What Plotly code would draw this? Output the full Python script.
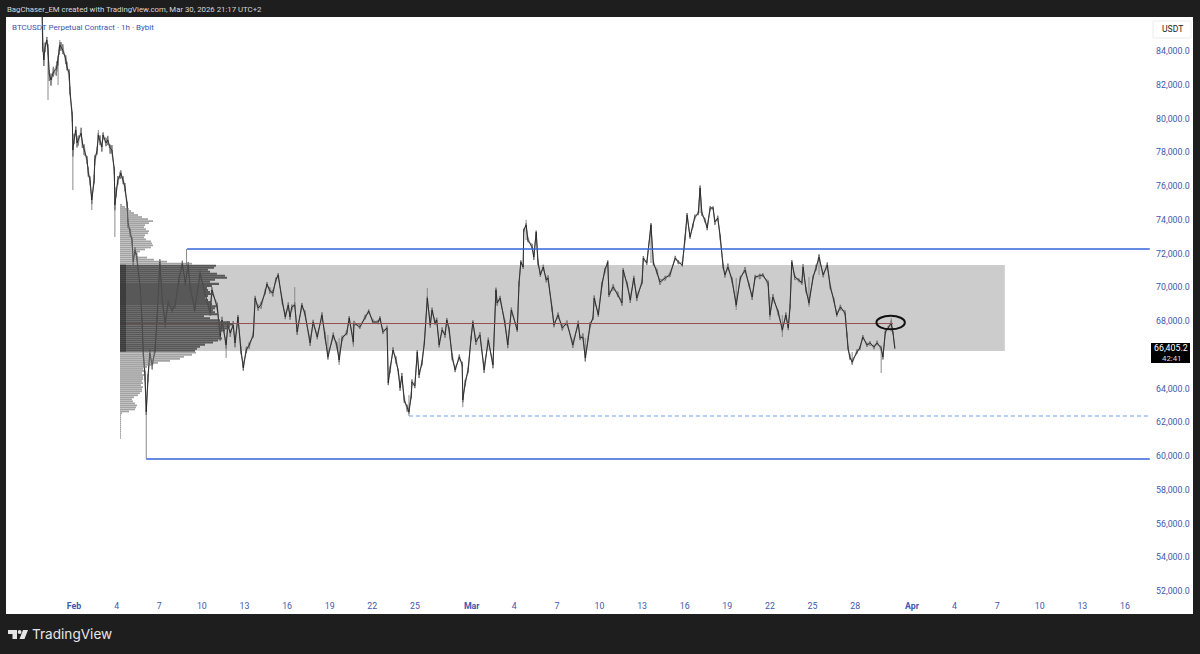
import plotly.graph_objects as go

# BTCUSDT price path: hours since 1 Feb 00:00 and traded price at each swing
hours = [-54,-53,-51,-49,-46,-44,-42,-39,-35,-30,-29,-27,-25,-24,-22,-19,-14,-12,-8,-7,-3,-2,0,3,5,7,12,14,17,22,24,27,30,34,35,39,41,44,47,49,54,57,61,64,68,69,71,74,78,79,83,86,90,91,95,98,100,103,106,112,115,117,120,122,125,128,132,137,140,145,149,154,159,166,171,177,183,188,193,196,204,213,221,230,233,242,247,250,257,260,264,269,272,277,282,286,291,296,303,306,311,316,323,326,331,336,341,345,352,357,362,365,368,373,377,385,390,399,404,411,419,424,429,438,444,448,453,461,465,472,473,483,492,498,505,514,517,522,529,531,534,539,544,548,551,554,558,563,566,570,571,576,580,583,588,592,597,602,605,610,613,617,622,627,630,634,639,644,651,656,657,661,666,671,674,679,686,693,700,708,713,715,720,728,733,739,749,752,755,759,760,764,767,774,777,781,784,788,793,798,801,808,811,818,825,833,843,852,855,860,864,869,872,877,879,886,892,897,902,904,911,919,926,928,935,940,946,951,960,962,968,975,979,985,990,999,1007,1016,1021,1028,1033,1036,1041,1046,1049,1055,1058,1061,1066,1070,1075,1080,1083,1088,1092,1097,1100,1105,1112,1119,1126,1134,1141,1146,1151,1159,1164,1173,1176,1181,1190,1197,1203,1207,1210,1213,1218,1225,1230,1232,1237,1242,1249,1254,1259,1266,1273,1278,1284,1289,1295,1303,1306,1308,1311,1315,1323,1328,1333,1340,1345,1352,1357,1364,1367,1371,1376,1381,1384,1387]
prices = [86430,84240,83470,84240,84650,84060,82640,82280,82760,82930,83050,83470,84060,84360,84240,84060,83530,83050,82640,81690,80090,78130,78730,79320,78550,78730,79140,78550,78190,77540,76770,76360,75170,76360,77540,78130,79020,78730,78310,79020,78550,78730,78250,78130,76950,74870,75590,76360,76650,76770,76300,75940,74760,73870,73210,72800,71500,72210,71790,69840,67880,66160,64680,62610,64680,66100,65390,66280,68060,71500,69240,67880,69070,68650,68950,70430,71440,70250,71320,70020,68650,70840,69660,68470,69840,68830,67050,68060,66580,67760,67290,67760,66700,68240,66280,65220,66280,66580,67170,69360,68770,68950,69720,70190,69780,69660,70430,70730,69130,68240,68950,68240,68830,68950,67350,68950,68470,66700,67940,67050,68360,67170,65870,67170,66580,65690,66990,67290,68180,66760,67880,67640,68240,68590,67940,67940,68180,67350,67590,64330,65100,66280,65690,64980,64030,64740,63320,62840,62610,63610,64390,64150,66160,64800,65510,66700,69360,67760,68650,67880,68060,66580,67470,67170,68060,67470,65870,65100,65870,65390,63320,64330,65100,66990,67940,66760,67170,65100,66870,65390,69840,69070,69360,67880,66580,68650,67470,70250,71500,71200,73390,73690,72800,72390,71790,73270,71500,70730,71200,70430,70550,68650,67760,68360,67590,67880,66580,67880,66990,67050,65810,66990,67760,68180,69360,68360,70130,71020,71500,69540,70020,69540,69070,71020,70130,69240,70550,69360,70310,71730,71440,73690,71440,70900,70310,70550,70730,71730,71500,71320,72980,74280,72980,73690,74160,74400,75880,74400,73990,73510,74700,74700,73870,74100,72980,71200,70730,71200,70430,68950,70550,71020,70130,69420,70610,70670,70730,70250,68360,69420,68530,67470,68360,67590,68830,71500,70610,70430,70250,71200,69840,69070,70610,71140,71790,70730,71320,70020,69240,68360,68830,68470,67170,66400,65870,65570,66160,66400,67050,66580,66700,66460,66700,66400,65870,67350,67590,67880,67290,66405]

# Bar extremes around each swing: distance up to the high and down to the low
wick_up = [0,300,420,260,180,350,240,380,300,210,340,260,190,150,280,330,220,310,260,190,320,240,360,200,290,250,310,180,270,230,340,210,160,300,280,190,120,260,220,150,310,240,200,290,170,260,310,230,190,150,280,240,310,200,260,180,230,170,260,300,220,190,350,240,180,260,200,300,240,160,280,220,190,300,240,180,130,260,170,220,300,150,240,280,170,260,210,190,160,230,180,240,160,120,210,280,190,150,230,130,200,170,150,120,210,180,140,110,190,230,150,210,140,160,240,120,170,200,130,190,150,180,230,140,190,210,130,170,110,190,130,160,120,90,150,120,100,170,130,280,200,160,210,170,240,180,210,190,240,170,140,200,120,220,170,150,100,190,140,180,130,210,150,170,120,160,210,170,140,190,240,180,150,130,100,190,160,210,140,180,110,170,130,190,220,140,170,110,90,120,80,100,160,180,120,80,160,190,130,170,150,200,160,140,180,150,190,140,170,210,120,130,170,90,150,120,170,110,90,180,160,190,200,110,170,210,130,190,150,110,130,90,150,200,170,120,150,130,110,160,140,120,70,90,130,100,110,80,120,170,110,90,100,140,130,160,120,200,150,170,110,180,90,110,120,130,100,150,100,170,120,200,140,160,180,110,110,90,130,160,170,190,90,190,140,100,150,80,120,180,130,150,160,120,170,180,150,110,120,130,100,110,130,120,110,100,120,150,90,110,90,80,100,70]
wick_dn = [0,280,360,310,240,300,410,330,280,390,250,320,280,360,210,240,310,190,350,280,300,380,240,310,260,330,190,290,360,240,210,300,240,210,320,260,180,310,270,240,190,300,330,210,290,310,240,280,220,310,190,260,240,350,220,280,170,240,210,190,230,290,210,180,300,240,260,180,220,300,190,260,230,170,210,260,310,180,240,170,150,280,210,160,260,190,230,170,210,170,230,150,260,190,220,160,180,210,140,190,160,220,130,170,150,200,120,180,150,130,220,160,190,120,170,210,140,180,170,130,190,240,120,170,210,130,180,120,170,150,130,110,140,120,100,130,170,120,160,130,190,140,210,180,160,200,170,210,100,180,210,130,170,180,140,110,210,150,130,110,170,140,120,160,110,150,190,130,170,110,140,190,170,140,120,180,130,170,150,190,120,160,170,100,190,140,120,200,150,110,130,90,120,110,170,130,190,110,170,140,150,110,130,180,150,120,170,140,120,150,170,100,150,120,170,110,140,190,130,120,180,110,160,210,130,170,140,180,120,190,110,130,150,120,170,140,120,100,130,90,170,110,100,150,130,120,110,170,140,130,150,110,170,130,190,110,150,130,170,120,130,110,120,170,140,190,110,170,120,150,190,110,190,130,120,140,170,130,100,190,150,110,90,130,200,140,170,110,130,100,170,140,110,120,150,130,110,130,100,120,150,130,110,120,150,140,100,120,90,70]

# Long candle wicks: hour, low, high
wick_hours = [-44,-27,-24,-2,30,41,69,122,190,257,373,429,448,472,566,597,657,713,764,864,975,1058,1119,1176,1197,1242,1259,1315,1364,1381]
wick_lows = [81100,81985,84360,75760,74580,78730,72980,59820,71320,65810,68950,65690,65390,66460,62370,69360,62900,69070,72800,65570,71440,74400,68650,68060,67050,68830,70730,65390,64920,67350]
wick_highs = [84060,83470,84650,78130,75170,79320,74870,62610,72270,66580,70010,67170,66990,67880,63610,69960,63320,70010,73990,66990,73810,76060,70550,69420,68360,70610,71970,66160,66400,68180]

# Volume profile rows, read from the top price downward
profile_top = 74880
profile_step = 120
profile_volume = [2,5,9,11,14,18,22,28,33,29,25,24,26,29,28,25,24,26,31,32,33,31,25,20,15,17,27,34,47,72,96,94,88,90,97,105,107,95,90,99,92,87,88,90,93,88,85,88,91,92,98,95,93,95,98,84,90,100,110,113,110,108,105,101,100,101,102,98,93,85,80,77,75,76,72,64,60,50,38,33,27,23,24,22,24,23,23,22,23,21,23,22,22,20,18,14,12,13,15,17,16,15,9,2,1,1,1,1,1,1,1,1,1,1,1,1]
value_area_high = 71320
value_area_low = 66220
value_area_edge = 6

# Drawn levels
poc_price = 67850
resistance_price = 72270
support_price = 59820
dashed_price = 62370
last_price = "66,405.2"
countdown = "42:41"

# Axis ticks
x_tick_hours = [0,72,144,216,288,360,432,504,576,672,744,816,888,960,1032,1104,1176,1248,1320,1416,1488,1560,1632,1704,1776]
x_tick_text = ["<b>Feb</b>","4","7","10","13","16","19","22","25","<b>Mar</b>","4","7","10","13","16","19","22","25","28","<b>Apr</b>","4","7","10","13","16"]
y_ticks = [84000,82000,80000,78000,76000,74000,72000,70000,68000,64000,62000,60000,58000,56000,54000,52000]

WIDTH, HEIGHT = 1200, 654
PANE_L, PANE_R, PANE_T, PANE_B = 6, 1193, 17, 614
AXIS_BLUE = "#3f58ad"
LINE_BLUE = "#3565dc"
UI_FONT = "Roboto"


def px(x):
    return (x - PANE_L) / (PANE_R - PANE_L)


def py(y):
    return (PANE_B - y) / (PANE_B - PANE_T)


bar_x, bar_y = [], []
for h, p, up, dn in zip(hours, prices, wick_up, wick_dn):
    bar_x += [h, h, None]
    bar_y += [p - dn, p + up, None]

# Two braided strands swinging between consecutive highs and lows give the dense 1h texture
strand_a, strand_b = [], []
for i, (p, up, dn) in enumerate(zip(prices, wick_up, wick_dn)):
    strand_a.append(p + up if i % 2 else p - dn)
    strand_b.append(p - dn if i % 2 else p + up)

wick_x, wick_y = [], []
for h, lo, hi in zip(wick_hours, wick_lows, wick_highs):
    wick_x += [h, h, None]
    wick_y += [lo, hi, None]

row_prices = [profile_top - i * profile_step for i in range(len(profile_volume))]
in_value = [value_area_low <= p <= value_area_high for p in row_prices]

fig = go.Figure()
fig.add_scatter(x=bar_x, y=bar_y, mode="lines", line=dict(color="#6a6a6a", width=1), hoverinfo="skip")
fig.add_scatter(x=wick_x, y=wick_y, mode="lines", line=dict(color="#8a8a8a", width=1), hoverinfo="skip")
fig.add_scatter(x=hours, y=strand_a, mode="lines", line=dict(color="#777777", width=0.7), hoverinfo="skip")
fig.add_scatter(x=hours, y=strand_b, mode="lines", line=dict(color="#777777", width=0.7), hoverinfo="skip")
fig.add_scatter(x=hours, y=prices, mode="lines", line=dict(color="#1a1a1a", width=0.8), hoverinfo="skip")
fig.add_scatter(x=[78, 1384], y=[poc_price, poc_price], mode="lines", line=dict(color="#96504f", width=1), hoverinfo="skip")

# Profile sits on its own overlaid axis so its bars paint over the price line
fig.add_bar(
    x=profile_volume, y=row_prices, orientation="h", xaxis="x2",
    width=[120 if v else 104 for v in in_value],
    marker=dict(color=["rgba(78,78,78,0.92)" if v else "rgba(120,120,120,0.68)" for v in in_value], line_width=0),
    hoverinfo="skip",
)
fig.add_bar(
    x=[value_area_edge if v else 0 for v in in_value], y=row_prices, orientation="h", xaxis="x2", width=120,
    marker=dict(color="rgba(50,50,50,0.7)", line_width=0), hoverinfo="skip",
)

shapes = [
    dict(type="rect", layer="below", x0=78, x1=1573, y0=value_area_low, y1=value_area_high,
         fillcolor="#cccccc", line_width=0),
    dict(type="line", x0=191, x1=1818, y0=resistance_price, y1=resistance_price, line=dict(color=LINE_BLUE, width=1.6)),
    dict(type="line", x0=122, x1=1818, y0=support_price, y1=support_price, line=dict(color=LINE_BLUE, width=1.6)),
    dict(type="line", x0=566, x1=1818, y0=dashed_price, y1=dashed_price,
         line=dict(color="#6f9bf2", width=1, dash="4px,3px")),
    dict(type="circle", x0=1356, x1=1404, y0=67510, y1=68310, line=dict(color="#111111", width=2)),
    # Last-price tag and currency button on the price scale
    dict(type="rect", xref="paper", yref="paper", x0=px(1151), x1=px(1190), y0=py(363), y1=py(343),
         fillcolor="#000000", line_width=0),
    dict(type="rect", xref="paper", yref="paper", x0=px(1153), x1=px(1191), y0=py(38), y1=py(21),
         fillcolor="#ffffff", line=dict(color="#ececec", width=1)),
    # TradingView mark in the footer
    dict(type="path", xref="paper", yref="paper", fillcolor="#e6e6e6", line_width=0,
         path=f"M {px(8)} {py(630)} L {px(17)} {py(630)} L {px(17)} {py(639)} L {px(12.5)} {py(639)} "
              f"L {px(12.5)} {py(634)} L {px(8)} {py(634)} Z"),
    dict(type="circle", xref="paper", yref="paper", fillcolor="#e6e6e6", line_width=0,
         x0=px(17.7), x1=px(21.5), y0=py(634), y1=py(630)),
    dict(type="path", xref="paper", yref="paper", fillcolor="#e6e6e6", line_width=0,
         path=f"M {px(23)} {py(630)} L {px(28)} {py(630)} L {px(24.5)} {py(639)} L {px(19.5)} {py(639)} Z"),
]


def note(x, y, text, size, color, anchor="left", family=UI_FONT, **kw):
    return dict(xref="paper", yref="paper", x=px(x), y=py(y), text=text, showarrow=False,
                xanchor=anchor, yanchor="middle", font=dict(family=family, size=size, color=color), **kw)


annotations = [
    note(4.5, 9, "BagChaser_EM created with TradingView.com, Mar 30, 2026 21:17 UTC+2", 7.8, "#d6d6d6"),
    note(10, 27, "BTCUSDT Perpetual Contract · 1h · Bybit", 8.0, "#3a55b0"),
    note(1172, 29, "USDT", 8.6, "#222222", anchor="center"),
    note(1171, 347.5, last_price, 8.8, "#ffffff", anchor="center"),
    note(1171, 358.5, countdown, 7.8, "#dddddd", anchor="center"),
    note(30, 634, "TradingView", 13.6, "#e6e6e6", family="Inter"),
]

fig.update_layout(
    width=WIDTH, height=HEIGHT,
    margin=dict(l=PANE_L, r=WIDTH - PANE_R, t=PANE_T, b=HEIGHT - PANE_B, pad=0),
    paper_bgcolor="#1e1e1e", plot_bgcolor="#ffffff",
    showlegend=False, barmode="overlay",
    shapes=shapes, annotations=annotations,
    xaxis=dict(range=[-115, 1891], tickmode="array", tickvals=x_tick_hours, ticktext=x_tick_text,
               ticklabelposition="inside", showgrid=False, zeroline=False, showline=False,
               tickfont=dict(family=UI_FONT, size=8.8, color=AXIS_BLUE), ticks=""),
    xaxis2=dict(overlaying="x", range=[-114, 1073], visible=False),
    yaxis=dict(range=[50637, 86015], side="right", tickmode="array", tickvals=y_ticks,
               ticktext=[f"{v:,.1f}" for v in y_ticks], ticklabelposition="inside",
               showgrid=False, zeroline=False, showline=False, ticks="inside", ticklen=2,
               tickcolor="rgba(0,0,0,0)",
               tickfont=dict(family=UI_FONT, size=8.8, color=AXIS_BLUE)),
)

fig.write_html("out.html", config=dict(displayModeBar=False))
